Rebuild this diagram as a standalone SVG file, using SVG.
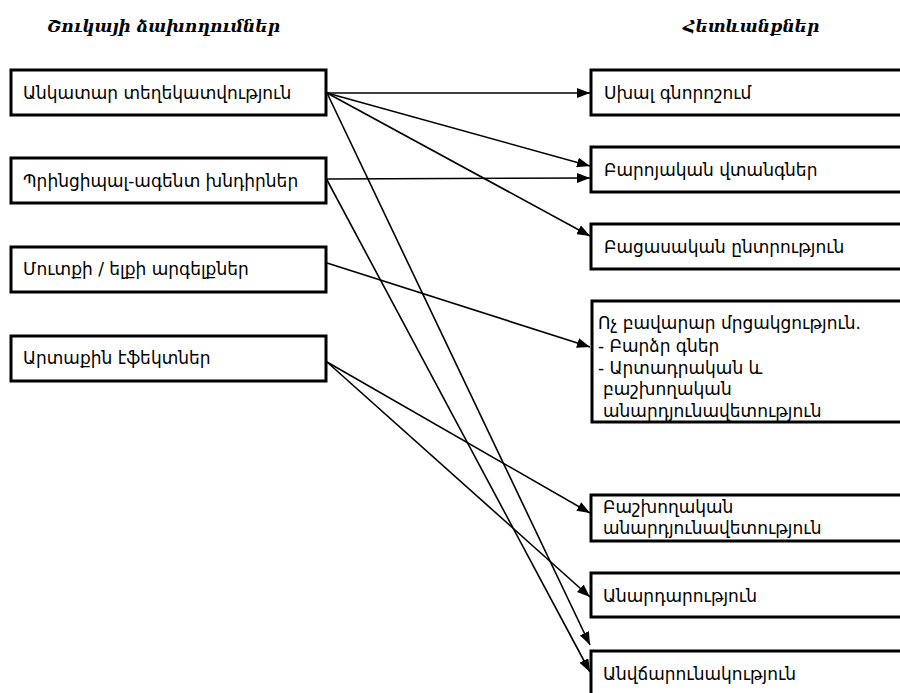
<svg xmlns="http://www.w3.org/2000/svg" width="900" height="693" viewBox="0 0 900 693">
<style>
.box{fill:#fff;stroke:#000;stroke-width:3}
.t{font-family:"DejaVu Sans","Noto Sans",sans-serif;font-size:17px;fill:#000}
.h{font-family:"DejaVu Serif","DejaVu Sans",serif;font-size:17px;font-weight:bold;font-style:italic;fill:#000}
.c{stroke:#000;stroke-width:1.6;fill:none;marker-end:url(#ah)}
</style>
<defs>
<marker id="ah" markerUnits="userSpaceOnUse" markerWidth="14" markerHeight="10" refX="13" refY="5" orient="auto">
<path d="M0,0 L13,5 L0,10 z" fill="#000"/>
</marker>
</defs>
<rect width="900" height="693" fill="#fff"/>
<text class="h" x="47" y="32">Շուկայի ձախողումներ</text>
<text class="h" x="683" y="32">Հետևանքներ</text>
<g id="connectors">
<line class="c" x1="327" y1="93" x2="590" y2="93"/>
<line class="c" x1="327" y1="93" x2="590" y2="166"/>
<line class="c" x1="327" y1="93" x2="590" y2="236"/>
<line class="c" x1="327" y1="93" x2="590" y2="645"/>
<line class="c" x1="327" y1="179" x2="590" y2="178"/>
<line class="c" x1="327" y1="180" x2="590" y2="672"/>
<line class="c" x1="327" y1="263" x2="590" y2="347"/>
<line class="c" x1="327" y1="362" x2="590" y2="513"/>
<line class="c" x1="327" y1="362" x2="590" y2="597"/>
</g>
<g id="l1"><rect class="box" x="11" y="70" width="315" height="45"/><text class="t" x="23" y="99">Անկատար տեղեկատվություն</text></g>
<g id="l2"><rect class="box" x="11" y="158" width="315" height="45"/><text class="t" x="23" y="187">Պրինցիպալ-ագենտ խնդիրներ</text></g>
<g id="l3"><rect class="box" x="11" y="247" width="315" height="45"/><text class="t" x="23" y="275">Մուտքի / ելքի արգելքներ</text></g>
<g id="l4"><rect class="box" x="11" y="336" width="315" height="45"/><text class="t" x="23" y="364">Արտաքին էֆեկտներ</text></g>
<g id="r1"><rect class="box" x="591" y="70" width="320" height="45"/><text class="t" x="604" y="99">Սխալ գնորոշում</text></g>
<g id="r2"><rect class="box" x="591" y="147" width="320" height="45"/><text class="t" x="604" y="176">Բարոյական վտանգներ</text></g>
<g id="r3"><rect class="box" x="591" y="224" width="320" height="45"/><text class="t" x="604" y="253">Բացասական ընտրություն</text></g>
<g id="r4"><rect class="box" x="592" y="301" width="320" height="121"/>
<text class="t" x="598" y="329">Ոչ բավարար մրցակցություն.</text>
<text class="t" x="598" y="352">- Բարձր գներ</text>
<text class="t" x="598" y="374">- Արտադրական և</text>
<text class="t" x="603" y="395">բաշխողական</text>
<text class="t" x="603" y="417">անարդյունավետություն</text></g>
<g id="r5"><rect class="box" x="591" y="495" width="320" height="46"/>
<text class="t" x="603" y="513">Բաշխողական</text>
<text class="t" x="603" y="534">անարդյունավետություն</text></g>
<g id="r6"><rect class="box" x="591" y="573" width="320" height="44"/><text class="t" x="603" y="602">Անարդարություն</text></g>
<g id="r7"><rect class="box" x="591" y="651" width="320" height="60"/><text class="t" x="603" y="680">Անվճարունակություն</text></g>
</svg>
